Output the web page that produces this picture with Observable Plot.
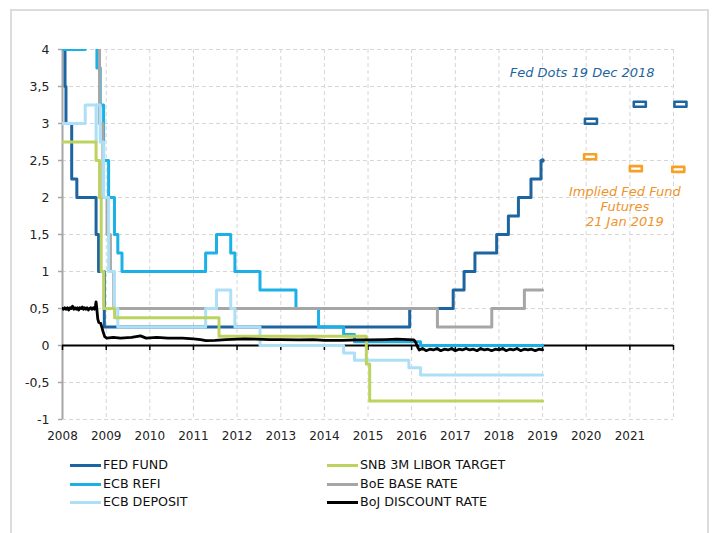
<!DOCTYPE html>
<html><head><meta charset="utf-8">
<script src="https://cdn.jsdelivr.net/npm/d3@7"></script>
<script src="https://cdn.jsdelivr.net/npm/@observablehq/plot@0.6"></script>
<style>
body{margin:0;background:#fff;font-family:"DejaVu Sans",sans-serif;}
#wrap{position:relative;width:716px;height:533px;overflow:hidden;background:#fff;}
#frame{position:absolute;left:10px;top:9px;width:695px;height:560px;border:2px solid #dcdcdc;}
#chart{position:absolute;left:0;top:0;}
.leg{position:absolute;height:16px;line-height:16px;font-size:12.7px;color:#111;display:flex;align-items:center;white-space:nowrap;}
.sw{display:inline-block;width:31px;height:3px;margin-right:2px;}
</style></head>
<body>
<div id="wrap"><div id="frame"></div><div id="chart"></div><div id="legend"></div></div>
<script>
// ---- data ----
const fedDates = ["2008-01-01","2008-01-22","2008-01-30","2008-03-18","2008-04-30","2008-10-08","2008-10-29","2008-12-16","2015-12-16","2016-12-14","2017-03-15","2017-06-14","2017-12-13","2018-03-21","2018-06-13","2018-09-26","2018-12-19","2019-01-01"];
const fedRates = [4.25,3.5,3.0,2.25,2.0,1.5,1.0,0.25,0.5,0.75,1.0,1.25,1.5,1.75,2.0,2.25,2.5,2.5];

const ecbRefiDates = ["2008-01-01","2008-07-09","2008-10-15","2008-11-12","2008-12-10","2009-01-21","2009-03-11","2009-04-08","2009-05-13","2011-04-13","2011-07-13","2011-11-09","2011-12-14","2012-07-11","2013-05-08","2013-11-13","2014-06-11","2014-09-10","2016-03-16","2019-01-01"];
const ecbRefiRates = [4.0,4.25,3.75,3.25,2.5,2.0,1.5,1.25,1.0,1.25,1.5,1.25,1.0,0.75,0.5,0.25,0.15,0.05,0.0,0.0];

const ecbDepoDates = ["2008-01-01","2008-07-09","2008-10-08","2008-10-09","2008-11-12","2008-12-10","2009-01-21","2009-03-11","2009-04-08","2011-04-13","2011-07-13","2011-11-09","2011-12-14","2012-07-11","2014-06-11","2014-09-10","2015-12-09","2016-03-16","2019-01-01"];
const ecbDepoRates = [3.0,3.25,2.75,3.25,2.75,2.0,1.0,0.5,0.25,0.5,0.75,0.5,0.25,0.0,-0.1,-0.2,-0.3,-0.4,-0.4];

const snbDates = ["2008-01-01","2008-10-08","2008-11-06","2008-11-20","2008-12-11","2009-03-12","2011-08-03","2014-12-18","2015-01-15","2019-01-01"];
const snbRates = [2.75,2.5,2.0,1.0,0.5,0.375,0.125,-0.25,-0.75,-0.75];

const boeDates = ["2008-01-01","2008-02-07","2008-04-10","2008-10-08","2008-11-06","2008-12-04","2009-01-08","2009-02-05","2009-03-05","2016-08-04","2017-11-02","2018-08-02","2019-01-01"];
const boeRates = [5.5,5.25,5.0,4.5,3.0,2.0,1.5,1.0,0.5,0.25,0.5,0.75,0.75];

const bojDates = ["2008-01-01","2008-01-10","2008-01-20","2008-02-01","2008-02-12","2008-02-22","2008-03-05","2008-03-15","2008-03-25","2008-04-05","2008-04-15","2008-04-25","2008-05-05","2008-05-15","2008-05-25","2008-06-05","2008-06-15","2008-06-25","2008-07-05","2008-07-15","2008-07-25","2008-08-05","2008-08-15","2008-08-25","2008-09-05","2008-09-15","2008-09-25","2008-10-03","2008-10-08","2008-10-14","2008-10-22","2008-10-31","2008-11-15","2008-11-25","2008-12-05","2008-12-19","2009-01-05","2009-03-01","2009-05-01","2009-08-01","2009-10-15","2009-12-01","2010-03-01","2010-06-01","2010-10-01","2011-01-01","2011-03-01","2011-04-15","2011-07-01","2011-10-01","2012-03-01","2012-06-01","2012-10-01","2013-01-01","2013-06-01","2013-10-01","2014-01-01","2014-06-01","2014-10-01","2015-01-01","2015-06-01","2015-09-01","2015-12-01","2016-01-20","2016-02-05","2016-02-20","2016-03-05","2016-04-01","2016-05-01","2016-06-01","2016-07-01","2016-08-01","2016-09-01","2016-10-01","2016-11-01","2016-12-01","2017-01-01","2017-02-01","2017-03-01","2017-04-01","2017-05-01","2017-06-01","2017-07-01","2017-08-01","2017-09-01","2017-10-01","2017-11-01","2017-12-01","2018-01-01","2018-02-01","2018-03-01","2018-04-01","2018-05-01","2018-06-01","2018-07-01","2018-08-01","2018-09-01","2018-10-01","2018-11-01","2018-12-01","2019-01-01"];
const bojRates = [0.50,0.49,0.51,0.49,0.51,0.48,0.51,0.50,0.53,0.49,0.51,0.49,0.51,0.48,0.51,0.50,0.52,0.49,0.51,0.49,0.51,0.48,0.50,0.51,0.49,0.51,0.49,0.54,0.59,0.50,0.36,0.31,0.30,0.25,0.19,0.12,0.10,0.11,0.10,0.11,0.13,0.10,0.11,0.10,0.10,0.09,0.08,0.065,0.07,0.08,0.09,0.085,0.08,0.08,0.075,0.08,0.07,0.07,0.075,0.075,0.08,0.085,0.08,0.075,0.04,-0.02,-0.06,-0.04,-0.07,-0.05,-0.06,-0.04,-0.07,-0.05,-0.06,-0.04,-0.07,-0.05,-0.06,-0.04,-0.06,-0.05,-0.07,-0.04,-0.06,-0.05,-0.07,-0.05,-0.06,-0.04,-0.07,-0.05,-0.06,-0.04,-0.07,-0.05,-0.06,-0.05,-0.07,-0.05,-0.06];

const fedDotDates = ["2020-02-10","2021-03-25","2022-02-28"];
const fedDotRates = [3.03,3.26,3.26];
const futDates = ["2020-02-03","2021-02-20","2022-02-10"];
const futRates = [2.55,2.39,2.38];

const yTicks = [-1,-0.5,0,0.5,1,1.5,2,2.5,3,3.5,4];
const xLabelYears = [2008,2009,2010,2011,2012,2013,2014,2015,2016,2017,2018,2019,2020,2021];
const xGridYears = [2009,2010,2011,2012,2013,2014,2015,2016,2017,2018,2019,2020,2021,2022];
const xTickYears = [2008,2009,2010,2011,2012,2013,2014,2015,2016,2017,2018,2019,2020,2021,2022];

const seriesNames = ["FED FUND","ECB REFI","ECB DEPOSIT","SNB 3M LIBOR TARGET","BoE BASE RATE","BoJ DISCOUNT RATE"];
const seriesColors = ["#1c65a0","#1cb1e6","#ade0f6","#bdd35f","#a6a6a6","#000000"];

// ---- build ----
const D = s => new Date(s + "T00:00:00Z");
const Y = y => new Date(Date.UTC(y,0,1));
const mk = (dates, rates) => dates.map((d,i) => ({date: D(d), rate: rates[i]}));
const fed = mk(fedDates, fedRates);
const refi = mk(ecbRefiDates, ecbRefiRates);
const depo = mk(ecbDepoDates, ecbDepoRates);
const snb = mk(snbDates, snbRates);
const boe = mk(boeDates, boeRates);
const boj = mk(bojDates, bojRates);
const dots = mk(fedDotDates, fedDotRates);
const fut = mk(futDates, futRates);

const pill = {draw(ctx){ ctx.moveTo(-6,-2.5); ctx.lineTo(6,-2.5); ctx.lineTo(6,2.5); ctx.lineTo(-6,2.5); ctx.closePath(); }};
const comma = d => String(d).replace(".", ",");
const lineOpt = (c, w) => ({x:"date", y:"rate", curve:"step-after", stroke:c, strokeWidth:w, clip:true});

const x0 = Y(2008);
const chart = Plot.plot({
  width: 716, height: 445,
  marginLeft: 62, marginRight: 43, marginTop: 49, marginBottom: 26,
  style: {fontFamily: "DejaVu Sans", fontSize: "12px", background: "transparent", color: "#222"},
  x: {type: "utc", domain: [Y(2008), Y(2022)], label: null},
  y: {domain: [-1, 4], label: null},
  marks: [
    Plot.gridY(yTicks.filter(v => v !== 0), {stroke: "#d6d6d6", strokeOpacity: 1, strokeDasharray: "4,3"}),
    Plot.gridX(xGridYears.map(Y), {stroke: "#d6d6d6", strokeOpacity: 1, strokeDasharray: "4,3"}),
    Plot.axisY(yTicks, {tickSize: 0, tickPadding: 13, tickFormat: comma, fill: "#222", fontSize: 12.5, label: null}),
    Plot.axisX(xLabelYears.map(Y), {tickSize: 0, tickPadding: 12, tickFormat: d3.utcFormat("%Y"), fill: "#222", fontSize: 12, label: null}),
    Plot.ruleY(yTicks, {y: d => d, x1: x0, x2: x0, insetLeft: -4, stroke: "#a6a6a6", strokeWidth: 1.5}),
    Plot.ruleX([x0], {stroke: "#a6a6a6", strokeWidth: 2}),
    Plot.ruleY([0], {stroke: "#000", strokeWidth: 2}),
    Plot.ruleX(xTickYears.map(Y), {x: d => d, y1: 0, y2: 0, insetBottom: -5, stroke: "#000", strokeWidth: 1.5}),
    Plot.line(fed, lineOpt(seriesColors[0], 3)),
    Plot.line(refi, lineOpt(seriesColors[1], 3)),
    Plot.line(boe, lineOpt(seriesColors[4], 3)),
    Plot.line(depo, lineOpt(seriesColors[2], 3)),
    Plot.line(snb, lineOpt(seriesColors[3], 3)),
    Plot.line(boj, {x:"date", y:"rate", stroke:"#000", strokeWidth:2.8, clip:true, strokeLinejoin:"round"}),
    Plot.dot(fed.slice(-1), {x:"date", y:"rate", r:2.2, fill: seriesColors[0]}),
    Plot.dot(dots, {x:"date", y:"rate", symbol: pill, stroke: seriesColors[0], fill: "white", strokeWidth: 2.6, strokeLinejoin: "round"}),
    Plot.dot(fut, {x:"date", y:"rate", symbol: pill, stroke: "#f5a125", fill: "white", strokeWidth: 2.6, strokeLinejoin: "round"}),
    Plot.text([{date: D("2019-11-28"), rate: 3.69, t: "Fed Dots 19 Dec 2018"}], {x:"date", y:"rate", text:"t", fontStyle:"italic", fontSize:13, fill: seriesColors[0]}),
    Plot.text([{date: D("2020-11-20"), rate: 1.88, t: "Implied Fed Fund\nFutures\n21 Jan 2019"}], {x:"date", y:"rate", text:"t", fontStyle:"italic", fontSize:13, lineHeight:1.17, fill: "#f0932b"})
  ]
});
document.getElementById("chart").appendChild(chart);

// ---- legend ----
const legPos = [[70,465],[70,484],[70,502],[327,465],[327,484],[327,502]];
const leg = document.getElementById("legend");
seriesNames.forEach((n,i) => {
  const el = document.createElement("div");
  el.className = "leg";
  el.style.left = legPos[i][0] + "px";
  el.style.top = (legPos[i][1] - 8) + "px";
  el.innerHTML = `<span class="sw" style="background:${seriesColors[i]}"></span><span>${n}</span>`;
  leg.appendChild(el);
});
</script>
</body></html>
